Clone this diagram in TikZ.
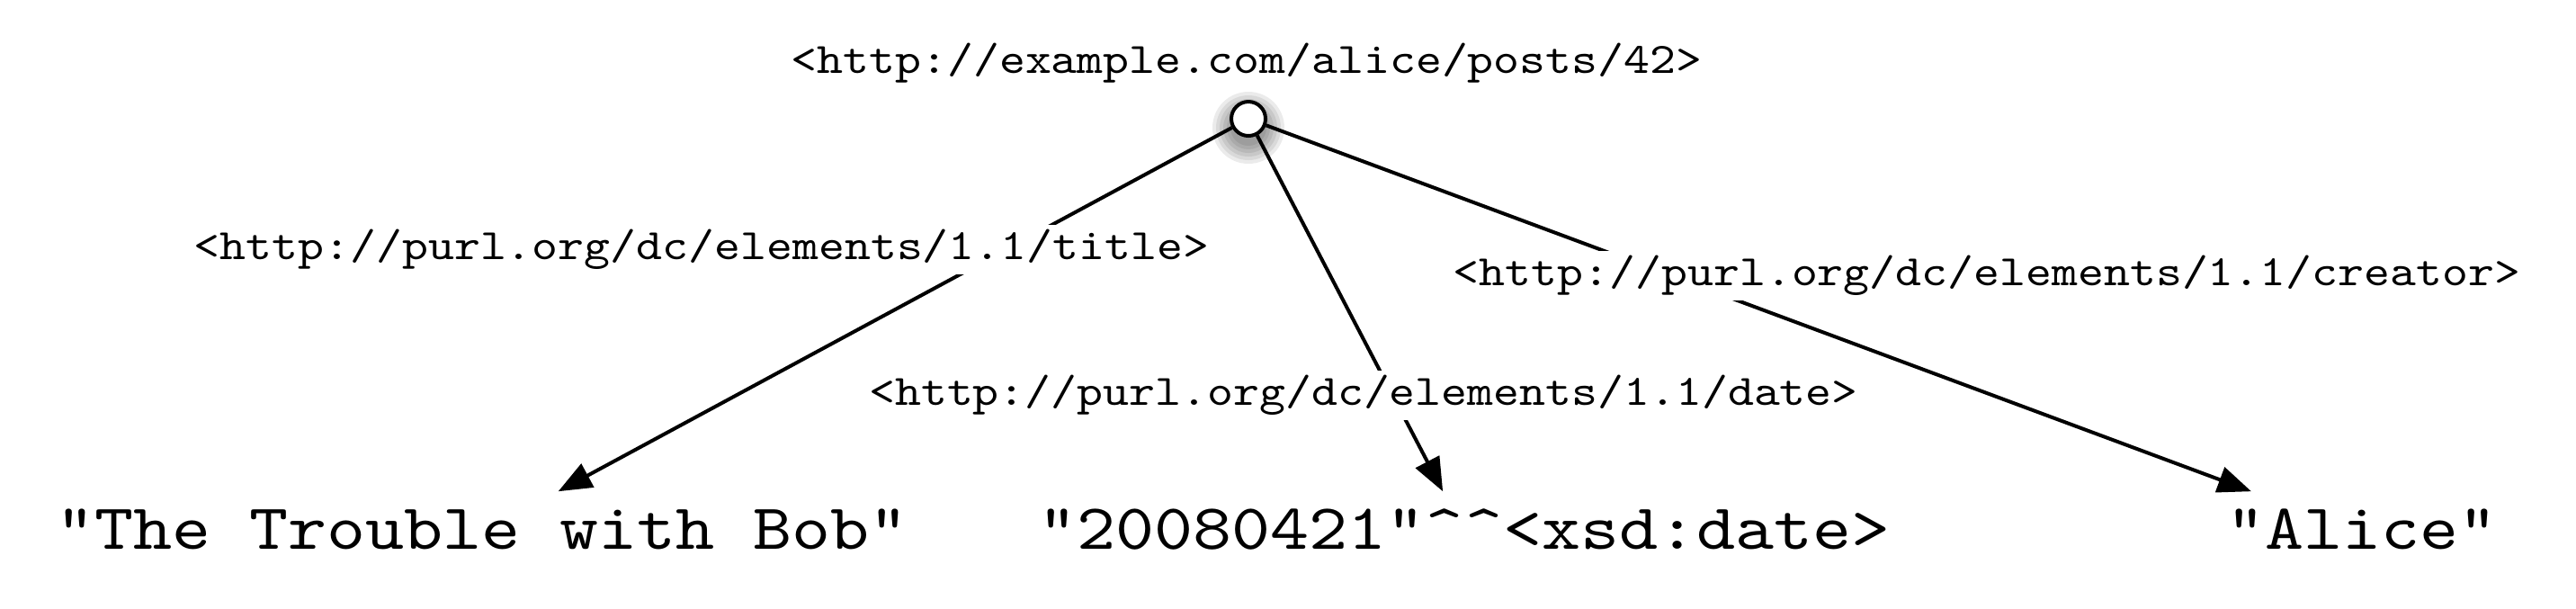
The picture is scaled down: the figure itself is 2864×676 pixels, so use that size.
\documentclass[tikz,border=0pt]{standalone}
\usepackage{fontspec}
\setmonofont{lmmono10-regular.otf}[FakeStretch=1.143]
\usetikzlibrary{arrows.meta}

\tikzset{
    uri/.style={font=\ttfamily\fontsize{12.1}{14}\selectfont, fill=white,
        anchor=base, inner xsep=1bp, inner ysep=2bp,
        text height=7.5bp, text depth=2.25bp},
    literal/.style={font=\ttfamily\fontsize{18}{22}\selectfont,
        anchor=base, inner sep=3.75bp, text height=12bp, text depth=3bp},
    subject/.style={circle, draw, fill=white, line width=1bp,
        minimum size=9.5bp, inner sep=0pt},
    prop/.style={line width=1bp, -{Triangle[length=9.3bp,width=7.3bp]}}
}

\begin{document}
\begin{tikzpicture}[x=0.25bp, y=-0.25bp]
    \useasboundingbox (0,0) rectangle (2864,676);

    %% soft shadow under the subject
    \foreach \r in {10,9,8,7,6,5}
        \fill[black, opacity=0.08] (1388,142) circle[radius=\r bp];

    \node[subject] (post) at (1388,132) {};
    \node[uri, fill=none] (postname) at (1386,81) {<http://example.com/alice/posts/42>};

    \node[literal] (trouble) at (536,610) {"The Trouble with Bob"};
    \node[literal] (date) at (1628,610) {"20080421"\textasciicircum\textasciicircum<xsd:date>};
    \node[literal] (alice) at (2626,610) {"Alice"};

    %% one arrow per triple
    \draw[prop] (post) -- (trouble);
    \draw[prop] (post) -- (date);
    \draw[prop] (post) -- (alice);

    %% predicate names sit on top of the arrows
    \node[uri] (title) at (780,288) {<http://purl.org/dc/elements/1.1/title>};
    \node[uri] (dateprop) at (1516,450) {<http://purl.org/dc/elements/1.1/date>};
    \node[uri] (creator) at (2209,317) {<http://purl.org/dc/elements/1.1/creator>};
\end{tikzpicture}
\end{document}
